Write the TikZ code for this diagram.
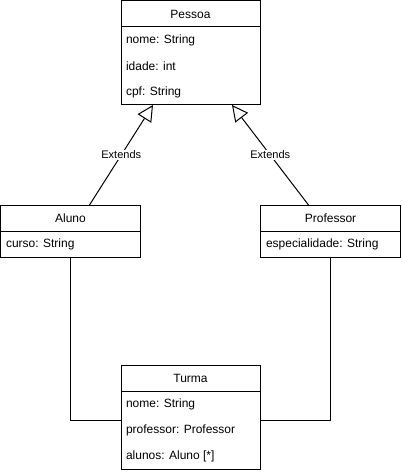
\documentclass[tikz,border=0pt]{standalone}
\usepackage{fontspec}
\setmainfont{Liberation Sans}
\usetikzlibrary{arrows.meta}
\begin{document}
\begin{tikzpicture}[
x=1pt, y=-1pt,
line width=1pt,
font=\fontsize{12}{14}\selectfont,
every node/.style={inner sep=0pt,outer sep=0pt},
head/.style={draw,minimum height=26pt},
body/.style={draw,anchor=north,minimum height=#1},
attr/.style={anchor=west},
extends/.style={-{Triangle[open,length=16pt,width=16pt]}},
lbl/.style={fill=white,inner sep=1pt,font=\fontsize{11}{13}\selectfont}
]
\useasboundingbox (0,0) rectangle (401,473);
% Pessoa
\node[head,minimum width=139pt] (pessoa) at (190.5,14) {Pessoa};
\node[body=78pt,minimum width=139pt] (pessoaBody) at (pessoa.south) {};
\node[attr] (pessoaNome) at (126,40) {nome: String};
\node[attr] (pessoaIdade) at (126,66) {idade: int};
\node[attr] (pessoaCpf) at (126,92) {cpf: String};
% Aluno
\node[head,minimum width=140pt] (aluno) at (70.5,218) {Aluno};
\node[body=26pt,minimum width=140pt] (alunoBody) at (aluno.south) {};
\node[attr] (alunoCurso) at (6,244) {curso: String};
% Professor
\node[head,minimum width=140pt] (professor) at (330.5,218) {Professor};
\node[body=26pt,minimum width=140pt] (professorBody) at (professor.south) {};
\node[attr] (professorEsp) at (266,244) {especialidade: String};
% Turma
\node[head,minimum width=139pt] (turma) at (190.5,378.5) {Turma};
\node[body=78pt,minimum width=139pt] (turmaBody) at (turma.south) {};
\node[attr] (turmaNome) at (126,404.5) {nome: String};
\node[attr] (turmaProf) at (126,430.5) {professor: Professor};
\node[attr] (turmaAlunos) at (126,456.5) {alunos: Aluno [*]};
% heranca
\draw[extends] ([xshift=19pt]aluno.north) -- ([xshift=-37.5pt]pessoaBody.south)
    node[lbl,midway] {Extends};
\draw[extends] ([xshift=-22pt]professor.north) -- ([xshift=41.5pt]pessoaBody.south)
    node[lbl,midway] {Extends};
% associacoes
\draw (alunoBody.south) |- ([yshift=10.5pt]turmaBody.west);
\draw (professorBody.south) |- ([yshift=10.5pt]turmaBody.east);
\end{tikzpicture}
\end{document}
